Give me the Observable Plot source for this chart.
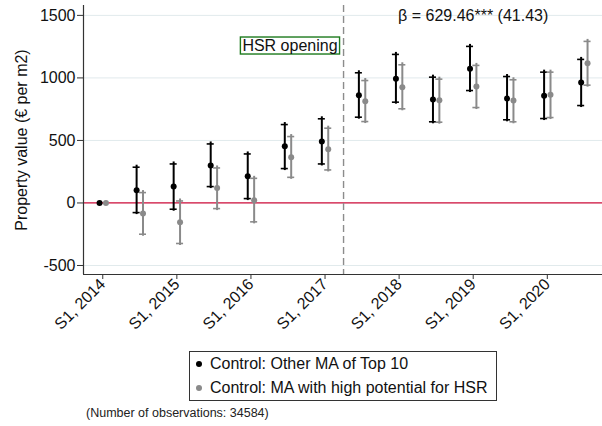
<!DOCTYPE html>
<html><head><meta charset="utf-8">
<script src="https://cdn.jsdelivr.net/npm/d3@7"></script>
<script src="https://cdn.jsdelivr.net/npm/@observablehq/plot@0.6"></script>
<style>
body{margin:0;background:#fff;font-family:"Liberation Sans",Arial,sans-serif;}
#wrap{position:relative;width:602px;height:426px;overflow:hidden;}
#legend{position:absolute;left:189px;top:351px;width:308px;height:50px;border:1.3px solid #333;box-sizing:border-box;font-size:16px;color:#111;}
.row{position:absolute;left:0;height:20px;line-height:20px;white-space:nowrap;}
.sw{position:absolute;left:6px;top:7px;width:6px;height:6px;border-radius:50%;}
.lab{position:absolute;left:20px;top:0;}
#caption{position:absolute;left:86px;top:406px;font-size:12.5px;color:#222;white-space:nowrap;}
</style></head><body><div id="wrap"></div>
<script>
// semesters S1 2014 ... S2 2020 (index 0..13)
const periods = ["S1 2014","S2 2014","S1 2015","S2 2015","S1 2016","S2 2016","S1 2017","S2 2017","S1 2018","S2 2018","S1 2019","S2 2019","S1 2020","S2 2020"];
const tickLabels = ["S1, 2014","S1, 2015","S1, 2016","S1, 2017","S1, 2018","S1, 2019","S1, 2020"];
const tickIdx = [0,2,4,6,8,10,12];

// Control: Other MA of Top 10
const topEst = [0, 101, 131, 299, 213, 454, 491, 862, 993, 827, 1073, 835, 857, 963];
const topLo  = [0, -77, -50, 131, 35, 275, 312, 686, 806, 649, 899, 665, 675, 779];
const topHi  = [0, 286, 312, 472, 392, 627, 673, 1041, 1188, 1006, 1252, 1011, 1046, 1148];
// Control: MA with high potential for HSR
const hsrEst = [0, -85, -154, 120, 22, 366, 430, 814, 926, 822, 931, 819, 865, 1118];
const hsrLo  = [0, -250, -324, -45, -151, 205, 264, 651, 753, 646, 763, 649, 683, 942];
const hsrHi  = [0, 83, 16, 280, 197, 531, 598, 979, 1105, 990, 1100, 985, 1046, 1292];

const seriesNames = ["Control: Other MA of Top 10","Control: MA with high potential for HSR"];
const openingAt = 6.5;
const annotations = [
  {text:"β = 629.46*** (41.43)", x:10, y:1500},
  {text:"HSR opening", x:6.5, y:1256}
];
const caption = "(Number of observations: 34584)";

const xDomain = [-0.52, 13.49];
const yDomain = [-572, 1579];
const yTicks = [-500, 0, 500, 1000, 1500];

const colors = ["#000000", "#8a8a8a"];
const offsets = [-3.2, 3.2];

const sets = [
  periods.map((p,i)=>({i, est:topEst[i], lo:topLo[i], hi:topHi[i]})),
  periods.map((p,i)=>({i, est:hsrEst[i], lo:hsrLo[i], hi:hsrHi[i]}))
];
const cw = 0.095;

const marks = [
  Plot.gridY(yTicks, {stroke:"#e1eaec", strokeOpacity:1, strokeWidth:1}),
  Plot.ruleY([0], {stroke:"#d3113d", strokeWidth:1.3}),
  Plot.ruleX([openingAt], {stroke:"#8c8c8c", strokeWidth:1.4, strokeDasharray:"7,4"}),
  Plot.ruleX([xDomain[0]], {stroke:"#333", strokeWidth:1.2}),
  Plot.ruleY([yDomain[0]], {stroke:"#333", strokeWidth:1.2})
];
sets.forEach((rows, k) => {
  const bars = rows.filter(d => d.hi !== d.lo);
  marks.push(
    Plot.ruleX(bars, {x:"i", y1:"hi", y2:"lo", dx:offsets[k], stroke:colors[k], strokeWidth:2, insetTop:-2, insetBottom:-2}),
    Plot.ruleY(bars, {x1:d=>d.i-cw, x2:d=>d.i+cw, y:"hi", dx:offsets[k], stroke:colors[k], strokeWidth:1.6}),
    Plot.ruleY(bars, {x1:d=>d.i-cw, x2:d=>d.i+cw, y:"lo", dx:offsets[k], stroke:colors[k], strokeWidth:1.6}),
    Plot.dot(rows, {x:"i", y:"est", dx:offsets[k], r:3, fill:colors[k], stroke:"none"})
  );
});
marks.push(
  Plot.text([annotations[0]], {x:"x", y:"y", text:"text", fontSize:16, fill:"#111"}),
  Plot.text([annotations[1]], {x:"x", y:"y", text:"text", fontSize:16, fill:"#111", textAnchor:"end", dx:-6}),
  Plot.axisY({ticks:yTicks, tickFormat:d=>String(d), tickSize:6, tickPadding:2, fontSize:16, stroke:"#333",
    label:"Property value (€ per m2)", labelAnchor:"center", labelOffset:68, labelArrow:"none"}),
  Plot.axisX({ticks:tickIdx, tickFormat:(d)=>tickLabels[tickIdx.indexOf(d)], tickRotate:-45, tickSize:5, tickPadding:2, fontSize:16, stroke:"#333", label:null})
);

const chart = Plot.plot({
  width:602, height:340,
  marginTop:5, marginBottom:66, marginLeft:83, marginRight:0,
  style:{fontFamily:"Liberation Sans, Arial, sans-serif", fontSize:"16px", color:"#111", background:"#fff"},
  x:{domain:xDomain},
  y:{domain:yDomain},
  marks
});
const wrap = document.getElementById("wrap");
wrap.appendChild(chart);

// box around "HSR opening"
d3.select(chart).selectAll("text").each(function(){
  if (this.textContent === "HSR opening") {
    const b = this.getBBox();
    const g = this.parentNode;
    const ctm = this.getAttribute("transform");
    const r = document.createElementNS("http://www.w3.org/2000/svg","rect");
    r.setAttribute("x", b.x-2); r.setAttribute("y", b.y);
    r.setAttribute("width", b.width+4); r.setAttribute("height", b.height);
    r.setAttribute("fill","#fff"); r.setAttribute("stroke","#1d7a1d"); r.setAttribute("stroke-width","1.4");
    if (ctm) r.setAttribute("transform", ctm);
    g.insertBefore(r, this);
  }
});

// legend
const leg = document.createElement("div");
leg.id = "legend";
seriesNames.forEach((n,k)=>{
  const row = document.createElement("div");
  row.className = "row";
  row.style.top = (2 + k*23.5) + "px";
  row.innerHTML = `<span class="sw" style="background:${colors[k]}"></span><span class="lab">${n}</span>`;
  leg.appendChild(row);
});
wrap.appendChild(leg);
const cap = document.createElement("div");
cap.id = "caption"; cap.textContent = caption;
wrap.appendChild(cap);
</script></body></html>
